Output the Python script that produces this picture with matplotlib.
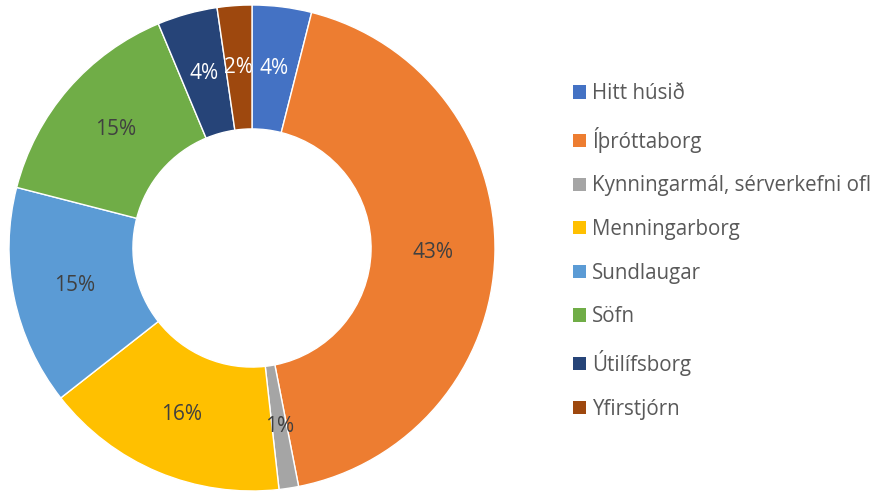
import matplotlib
matplotlib.use("Agg")
import matplotlib.pyplot as plt
from matplotlib.patches import Patch

categories = ["Hitt húsið", "Íþróttaborg", "Kynningarmál, sérverkefni ofl",
              "Menningarborg", "Sundlaugar", "Söfn", "Útilífsborg", "Yfirstjórn"]
values = [3.95, 43.0, 1.3, 16.2, 14.6, 14.7, 4.0, 2.3]
colors = ["#4472C4", "#ED7D31", "#A5A5A5", "#FFC000", "#5B9BD5", "#70AD47", "#264478", "#9E480E"]
label_colors = ["white", "#404040", "#404040", "#404040", "#404040", "#404040", "white", "white"]

plt.rcParams['font.family'] = ['Open Sans', 'DejaVu Sans']

fig = plt.figure(figsize=(8.8, 4.92), dpi=100)
cx, cy, r = 252, 248, 243
ax = fig.add_axes([(cx - r) / 880, (492 - cy - r) / 492, 2 * r / 880, 2 * r / 492])
ax.set_aspect('equal')

wedges, texts, autotexts = ax.pie(
    values, colors=colors, startangle=90, counterclock=False, radius=1,
    wedgeprops=dict(width=0.51, edgecolor='white', linewidth=1),
    autopct=lambda p: f"{p:.0f}%", pctdistance=0.745,
    textprops=dict(fontsize=15))
for t, c in zip(autotexts, label_colors):
    t.set_color(c)
ax.set_xlim(-1, 1)
ax.set_ylim(-1, 1)

handles = [Patch(facecolor=c, edgecolor='none') for c in colors]
leg = fig.legend(handles, categories, loc='upper left',
                 bbox_to_anchor=(565 / 880, 1 - 75 / 492),
                 frameon=False, fontsize=14.8, labelspacing=1.1,
                 handlelength=0.62, handleheight=0.62, handletextpad=0.3,
                 borderaxespad=0)
for t in leg.get_texts():
    t.set_color("#595959")

fig.savefig("out.png", dpi=100)
